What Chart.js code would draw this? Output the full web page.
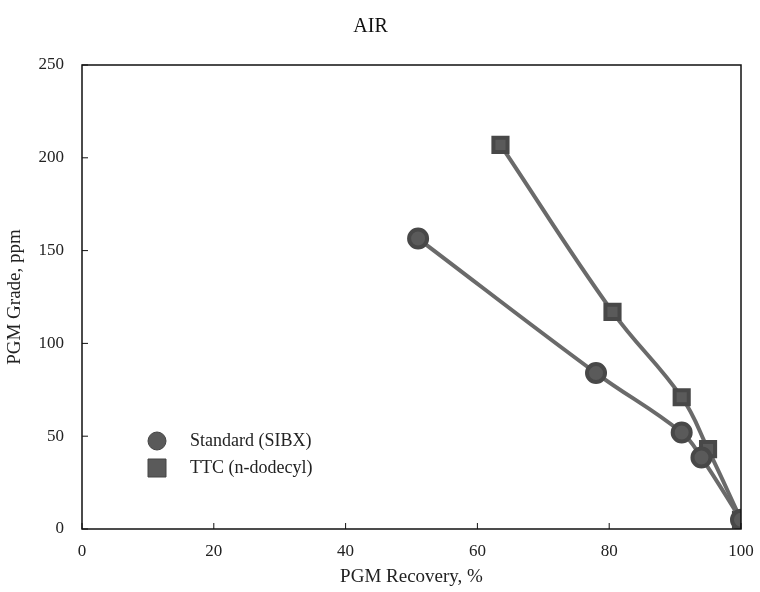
<!DOCTYPE html>
<html>
<head>
<meta charset="utf-8">
<script src="https://cdn.jsdelivr.net/npm/chart.js@4"></script>
<style>
html,body{margin:0;padding:0;background:#fff}
#wrap{width:760px;height:592px;position:relative}
</style>
</head>
<body>
<div id="wrap"><canvas id="c"></canvas></div>
<script>
'use strict';

const sibxRecovery=[51,78,91,94,100];
const sibxGrade=[156.5,84,52,38.5,5];
const ttcRecovery=[63.5,80.5,91,95,100];
const ttcGrade=[207,117,71,43,5];
const xTicks=[0,20,40,60,80,100];
const yTicks=[0,50,100,150,200,250];

const SERIF='"Liberation Serif","DejaVu Serif",serif';
const pts=(xs,ys)=>xs.map((x,i)=>({x,y:ys[i]}));

const frame={
  id:'frame',
  afterDraw(ch){
    const {ctx,chartArea:a,scales:{x,y}}=ch;
    ctx.save();
    ctx.strokeStyle='#111';ctx.lineWidth=1.5;
    ctx.strokeRect(a.left,a.top,a.right-a.left,a.bottom-a.top);
    ctx.lineWidth=1;
    xTicks.forEach(v=>{const p=x.getPixelForValue(v);ctx.beginPath();ctx.moveTo(p,a.bottom);ctx.lineTo(p,a.bottom-6);ctx.stroke();});
    yTicks.forEach(v=>{const p=y.getPixelForValue(v);ctx.beginPath();ctx.moveTo(a.left,p);ctx.lineTo(a.left+6,p);ctx.stroke();});
    // legend
    ctx.font='18px '+SERIF;ctx.textBaseline='middle';
    ch.data.datasets.forEach((d,i)=>{
      const cy=441+i*27,cx=157;
      ctx.fillStyle=d.backgroundColor;ctx.strokeStyle='#444';
      ctx.beginPath();
      if(d.pointStyle==='circle') ctx.arc(cx,cy,9,0,Math.PI*2); else ctx.rect(cx-9,cy-9,18,18);
      ctx.fill();ctx.stroke();
      ctx.fillStyle='#222';ctx.fillText(d.label,190,cy);
    });
    ctx.restore();
  }
};

new Chart(document.getElementById('c'),{
  type:'line',
  data:{datasets:[
    {label:'Standard (SIBX)',data:pts(sibxRecovery,sibxGrade),pointStyle:'circle',pointRadius:9,
     backgroundColor:'#5a5a5a',pointBackgroundColor:'#5a5a5a',pointBorderColor:'#484848',borderColor:'#6a6a6a',borderWidth:4,tension:0.4},
    {label:'TTC (n-dodecyl)',data:pts(ttcRecovery,ttcGrade),pointStyle:'rect',pointRadius:10,
     backgroundColor:'#5a5a5a',pointBackgroundColor:'#5a5a5a',pointBorderColor:'#484848',borderColor:'#6a6a6a',borderWidth:4,tension:0.4}
  ]},
  options:{
    responsive:true,maintainAspectRatio:false,animation:false,
    layout:{padding:{top:0,right:19,bottom:0,left:0}},
    plugins:{
      legend:{display:false},tooltip:{enabled:false},
      title:{display:true,text:'AIR',color:'#111',font:{family:SERIF,size:20,weight:'normal'},padding:{top:15,bottom:26}}
    },
    scales:{
      x:{type:'linear',min:0,max:100,
        afterBuildTicks:s=>{s.ticks=xTicks.map(v=>({value:v}));},
        grid:{display:false},border:{display:false},
        ticks:{color:'#222',font:{family:SERIF,size:17},padding:4},
        title:{display:true,text:'PGM Recovery, %',color:'#222',font:{family:SERIF,size:19},padding:{top:4}},
        afterFit:s=>{s.height=63;}
      },
      y:{type:'linear',min:0,max:250,
        afterBuildTicks:s=>{s.ticks=yTicks.map(v=>({value:v}));},
        grid:{display:false},border:{display:false},
        ticks:{color:'#222',font:{family:SERIF,size:17},padding:10},
        title:{display:true,text:'PGM Grade, ppm',color:'#222',font:{family:SERIF,size:19},padding:{bottom:2}},
        afterFit:s=>{s.width=82;}
      }
    }
  },
  plugins:[frame]
});
</script>
</body>
</html>
